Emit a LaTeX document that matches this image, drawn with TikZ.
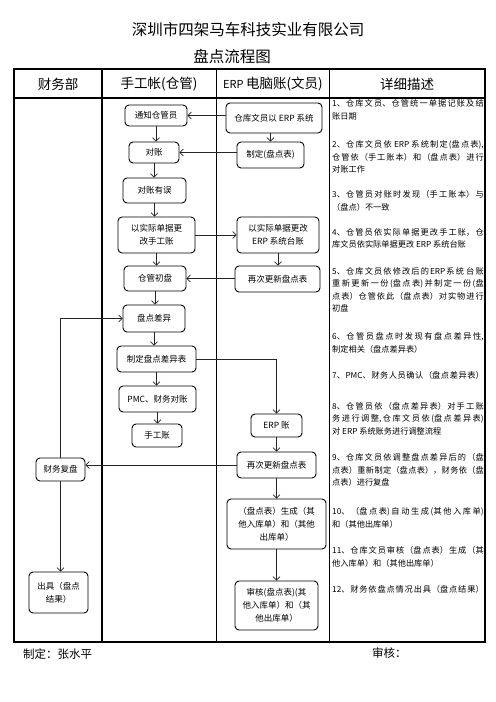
\documentclass[tikz,border=0pt]{standalone}
\usepackage{fontspec}
\setmainfont{Noto Sans CJK SC}
\usetikzlibrary{arrows.meta}
\XeTeXlinebreaklocale "zh"
\XeTeXlinebreakskip=0pt plus 3pt
\tolerance=9999
\tikzset{
  box/.style={draw=black, line width=0.9bp, rounded corners=4bp, inner sep=0pt,
    align=center, font=\fontsize{8.5bp}{13bp}\selectfont},
  arr/.style={draw=black!85, line width=0.6bp, -{Straight Barb[length=3.5bp,width=7bp]}},
  tbl/.style={draw=black, line width=1.2bp},
  desc/.style={anchor=north west, inner sep=0pt, text width=151.5bp, align=justify,
    font=\fontsize{8.2bp}{12.5bp}\selectfont},
  hdr/.style={font=\fontsize{13.5bp}{16bp}\selectfont, inner sep=0pt}
}
\begin{document}
\begin{tikzpicture}[x=1bp,y=-1bp]
\useasboundingbox[fill=white] (0,0) rectangle (496,702);
% titles
\node[font=\fontsize{15.5bp}{18bp}\selectfont] (t1) at (248,30) {深圳市四架马车科技实业有限公司};
\node[font=\fontsize{15.5bp}{18bp}\selectfont] (t2) at (232,57) {盘点流程图};
% table
\draw[tbl] (14,69) rectangle (485,642);
\draw[tbl] (14,98) -- (485,98);
\draw[tbl] (102,69) -- (102,642);
\draw[tbl] (216.5,69) -- (216.5,642);
\draw[tbl] (329.5,69) -- (329.5,642);
\node[hdr] (h1) at (58,84) {财务部};
\node[hdr] (h2) at (159,84) {手工帐(仓管)};
\node[hdr] (h3) at (273,84) {\fontsize{11bp}{14bp}\selectfont ERP \fontsize{13.5bp}{16bp}\selectfont 电脑账(文员)};
\node[hdr] (h4) at (407,84) {详细描述};
% boxes
\node[box, minimum width=62bp, minimum height=21bp] (n1) at (156,115.5) {通知仓管员};
\node[box, minimum width=96bp, minimum height=30bp] (e1) at (274,118) {仓库文员以 ERP 系统};
\node[box, minimum width=50bp, minimum height=21bp] (n2) at (154,152.5) {对账};
\node[box, minimum width=67bp, minimum height=26bp] (e2) at (270.5,155) {制定(盘点表)};
\node[box, minimum width=63bp, minimum height=25bp] (n3) at (154.5,190.5) {对账有误};
\node[box, minimum width=77bp, minimum height=36bp] (n4) at (156.5,235) {以实际单据更\\改手工账};
\node[box, minimum width=82bp, minimum height=36bp] (e3) at (278,235) {以实际单据更改\\ERP 系统台账};
\node[box, minimum width=62bp, minimum height=25bp] (n5) at (155,278.5) {仓管初盘};
\node[box, minimum width=85bp, minimum height=26bp] (e4) at (277.5,279) {再次更新盘点表};
\node[box, minimum width=62bp, minimum height=27bp] (n6) at (154,318.5) {盘点差异};
\node[box, minimum width=79bp, minimum height=26bp] (n7) at (156.5,359) {制定盘点差异表};
\node[box, minimum width=77bp, minimum height=26bp] (n8) at (157.5,399) {PMC、财务对账};
\node[box, minimum width=50bp, minimum height=23bp] (n9) at (157,435.5) {手工账};
\node[box, minimum width=51bp, minimum height=23bp] (e5) at (276.5,425.5) {ERP 账};
\node[box, minimum width=79bp, minimum height=26bp] (e6) at (276.5,465) {再次更新盘点表};
\node[box, minimum width=49bp, minimum height=23bp] (f1) at (60.5,469.5) {财务复盘};
\node[box, minimum width=59bp, minimum height=41bp] (f2) at (58.5,592.5) {出具（盘点\\结果）};
\node[box, minimum width=99bp, minimum height=50bp] (e7) at (276.5,524) {（盘点表）生成（其\\他入库单）和（其他\\出库单）};
\node[box, minimum width=83bp, minimum height=49bp] (e8) at (276.5,605.5) {审核(盘点表)(其\\他入库单）和（其\\他出库单）};
% connectors
\draw[arr] (e1.west |- n1.east) -- (n1.east);
\draw[arr] (n1.south) -- (n1.south |- n2.north);
\draw[arr] (e2.north |- e1.south) -- (e2.north);
\draw[arr] (e2.west |- n2.east) -- (n2.east);
\draw[arr] (n2.south) -- (n2.south |- n3.north);
\draw[arr] (n3.south) -- (n3.south |- n4.north);
\draw[arr] (n4.east) -- (n4.east -| e3.west);
\draw[arr] (e3.south) -- (e3.south |- e4.north);
\draw[arr] (e4.west |- n5.east) -- (n5.east);
\draw[arr] (n4.south) -- (n4.south |- n5.north);
\draw[arr] (n5.south) -- (n5.south |- n6.north);
\draw[arr] (n6.south) -- (n6.south |- n7.north);
\draw[arr] (n7.east) -| (e5.north);
\draw[arr] (n7.south) -- (n7.south |- n8.north);
\draw[arr] (n8.south) -- (n8.south |- n9.north);
\draw[arr] (e5.south) -- (e5.south |- e6.north);
\draw[arr] (e6.west) -- (e6.west -| f1.east);
\draw[arr] (f1.north) |- (n6.west);
\draw[arr] (f1.south) -- (f1.south |- f2.north);
\draw[arr] (e6.south) -- (e6.south |- e7.north);
\draw[arr] (e7.south) -- (e7.south |- e8.north);
% description
\node[desc] (d1) at (332,99.5) {1、仓库文员、仓管统一单据记账及结\linebreak 账日期};
\node[desc] (d2) at (332,140.5) {2、仓库文员依 ERP 系统制定(盘点表),\linebreak 仓管依（手工账本）和（盘点表）进行\linebreak 对账工作};
\node[desc] (d3) at (332,190.5) {3、仓管员对账时发现（手工账本）与\linebreak （盘点）不一致};
\node[desc] (d4) at (332,228) {4、仓管员依实际单据更改手工账，仓\linebreak 库文员依实际单据更改 ERP 系统台账};
\node[desc] (d5) at (332,267) {5、仓库文员依修改后的ERP系统 台账\linebreak 重新更新一份(盘点表)并制定一份(盘\linebreak 点表）仓管依此（盘点表）对实物进行\linebreak 初盘};
\node[desc] (d6) at (332,332.5) {6、仓管员盘点时发现有盘点差异性,\linebreak 制定相关（盘点差异表）};
\node[desc] (d7) at (332,371.5) {7、PMC、财务人员确认（盘点差异表）\linebreak\mbox{}};
\node[desc] (d8) at (332,402) {8、仓管员依（盘点差异表）对手工账\linebreak 务进行调整,仓库文员依(盘点差异表)\linebreak 对 ERP 系统账务进行调整流程};
\node[desc] (d9) at (332,453.5) {9、仓库文员依调整盘点差异后的（盘\linebreak 点表）重新制定（盘点表），财务依（盘\linebreak 点表）进行复盘};
\node[desc] (d10) at (332,507.5) {10、（盘点表)自动生成(其他入库单)\linebreak 和（其他出库单）};
\node[desc] (d11) at (332,546.5) {11、仓库文员审核（盘点表）生成（其\linebreak 他入库单）和（其他出库单）};
\node[desc] (d12) at (332,585.5) {12、财务依盘点情况出具（盘点结果）\linebreak\mbox{}};
% footer
\node[anchor=west, font=\fontsize{11.5bp}{14bp}\selectfont, inner sep=0pt] (ft1) at (23,654) {制定：张水平};
\node[anchor=west, font=\fontsize{11.5bp}{14bp}\selectfont, inner sep=0pt] (ft2) at (372,653) {审核：};
\end{tikzpicture}
\end{document}
